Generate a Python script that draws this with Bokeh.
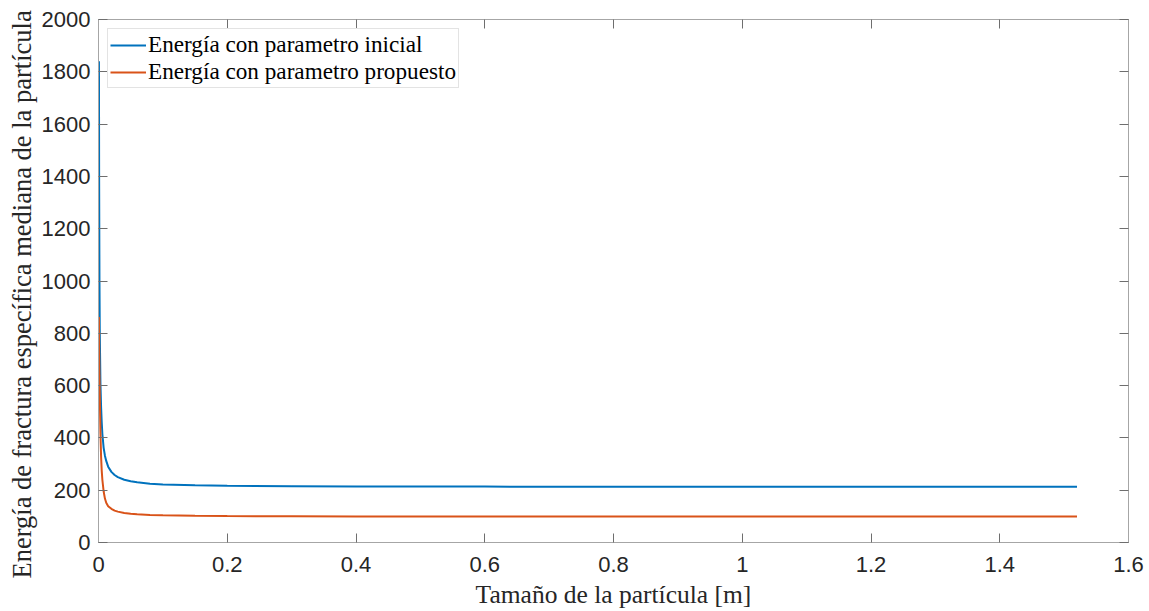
from bokeh.plotting import figure
from bokeh.models import LinearAxis, FixedTicker, Range1d, Legend, LegendItem, Title
from bokeh.embed import file_html
from bokeh.resources import INLINE

# ---- data ----
size_m = [0.0007, 0.001, 0.0015, 0.002, 0.003, 0.004, 0.005, 0.006, 0.008, 0.01,
          0.012, 0.015, 0.02, 0.025, 0.03, 0.04, 0.05, 0.06, 0.08, 0.1,
          0.15, 0.2, 0.3, 0.4, 0.5, 0.6, 0.8, 1.0, 1.2, 1.4, 1.52]
energy_initial = [1840, 1380, 1000, 800, 610, 520, 460, 415, 362, 332,
                  312, 290, 270, 258, 250, 240, 234, 230, 225, 222,
                  219, 217, 215.5, 214.5, 214, 213.7, 213.4, 213.2, 213, 213, 213]
energy_proposed = [862, 760, 640, 560, 420, 330, 275, 240, 195, 168,
                   152, 139, 129, 122, 118, 113, 110, 108, 105.5, 104,
                   102, 101, 100.3, 99.8, 99.5, 99.3, 99.1, 99, 99, 99, 99]
series_names = ["Energía con parametro inicial", "Energía con parametro propuesto"]
series_colors = ["#0072BD", "#D95319"]

x_ticks = [0, 0.2, 0.4, 0.6, 0.8, 1.0, 1.2, 1.4, 1.6]
x_tick_labels = ["0", "0.2", "0.4", "0.6", "0.8", "1", "1.2", "1.4", "1.6"]
y_ticks = [0, 200, 400, 600, 800, 1000, 1200, 1400, 1600, 1800, 2000]
y_tick_labels = [str(v) for v in y_ticks]

x_title = "Tamaño de la partícula [m]"
y_title = "Energía de fractura específica mediana de la partícula"

# ---- figure ----
p = figure(width=1149, height=611, output_backend="svg", toolbar_location=None,
           x_range=Range1d(0, 1.6), y_range=Range1d(0, 2000),
           min_border_left=98, min_border_right=21, min_border_top=19, min_border_bottom=69)
p.background_fill_color = "white"
p.border_fill_color = "white"
p.outline_line_color = "#a6a6a6"
p.outline_line_width = 1
p.xgrid.visible = False
p.ygrid.visible = False

r1 = p.line(size_m, energy_initial, line_color=series_colors[0], line_width=2)
r2 = p.line(size_m, energy_proposed, line_color=series_colors[1], line_width=2)

tick_color = "#6e6e6e"
label_color = "#262626"
label_font = "Liberation Sans"
title_font = "Liberation Serif"

xax = p.xaxis[0]
yax = p.yaxis[0]
xax.ticker = FixedTicker(ticks=x_ticks)
yax.ticker = FixedTicker(ticks=y_ticks)
xax.major_label_overrides = {t: l for t, l in zip(x_ticks, x_tick_labels)}
yax.major_label_overrides = {t: l for t, l in zip(y_ticks, y_tick_labels)}
xax.axis_label = x_title

for ax in (xax, yax):
    ax.axis_line_color = "#a6a6a6"
    ax.major_tick_line_color = tick_color
    ax.major_tick_in = 9
    ax.major_tick_out = 0
    ax.minor_tick_line_color = None
    ax.major_label_text_font = label_font
    ax.major_label_text_font_size = "22px"
    ax.major_label_text_color = label_color
    ax.axis_label_text_font = title_font
    ax.axis_label_text_font_style = "normal"
    ax.axis_label_text_color = label_color
xax.axis_label_text_font_size = "25.5px"
xax.major_label_standoff = 14
yax.major_label_standoff = 8
xax.axis_label_standoff = 5

# y axis title as a left-side title, so that it can be shifted along the axis
ytitle = Title(text=y_title, align="left", offset=-36, standoff=3,
               text_font=title_font, text_font_size="26.5px",
               text_font_style="normal", text_color=label_color)
p.add_layout(ytitle, "left")

# top and right axes (ticks only), as in a boxed plot
top = LinearAxis(ticker=FixedTicker(ticks=x_ticks),
                 major_label_overrides={t: "" for t in x_ticks},
                 axis_line_color="#a6a6a6", major_tick_line_color=tick_color,
                 major_tick_in=9, major_tick_out=0, minor_tick_line_color=None,
                 major_label_standoff=0)
right = LinearAxis(ticker=FixedTicker(ticks=y_ticks),
                   major_label_overrides={t: "" for t in y_ticks},
                   axis_line_color="#a6a6a6", major_tick_line_color=tick_color,
                   major_tick_in=9, major_tick_out=0, minor_tick_line_color=None,
                   major_label_standoff=0)
p.add_layout(top, "above")
p.add_layout(right, "right")

legend = Legend(items=[LegendItem(label=series_names[0], renderers=[r1]),
                       LegendItem(label=series_names[1], renderers=[r2])],
                location="top_left")
legend.margin = 9
legend.padding = 2
legend.spacing = 0
legend.glyph_width = 36
legend.glyph_height = 26
legend.label_height = 26
legend.label_standoff = 2
legend.label_text_font = title_font
legend.label_text_font_size = "23.2px"
legend.label_text_color = "#000000"
legend.border_line_color = "#c8c8c8"
legend.border_line_width = 1
legend.background_fill_color = "white"
legend.background_fill_alpha = 1
p.add_layout(legend, "center")

open("out.html", "w").write(file_html(p, INLINE))
